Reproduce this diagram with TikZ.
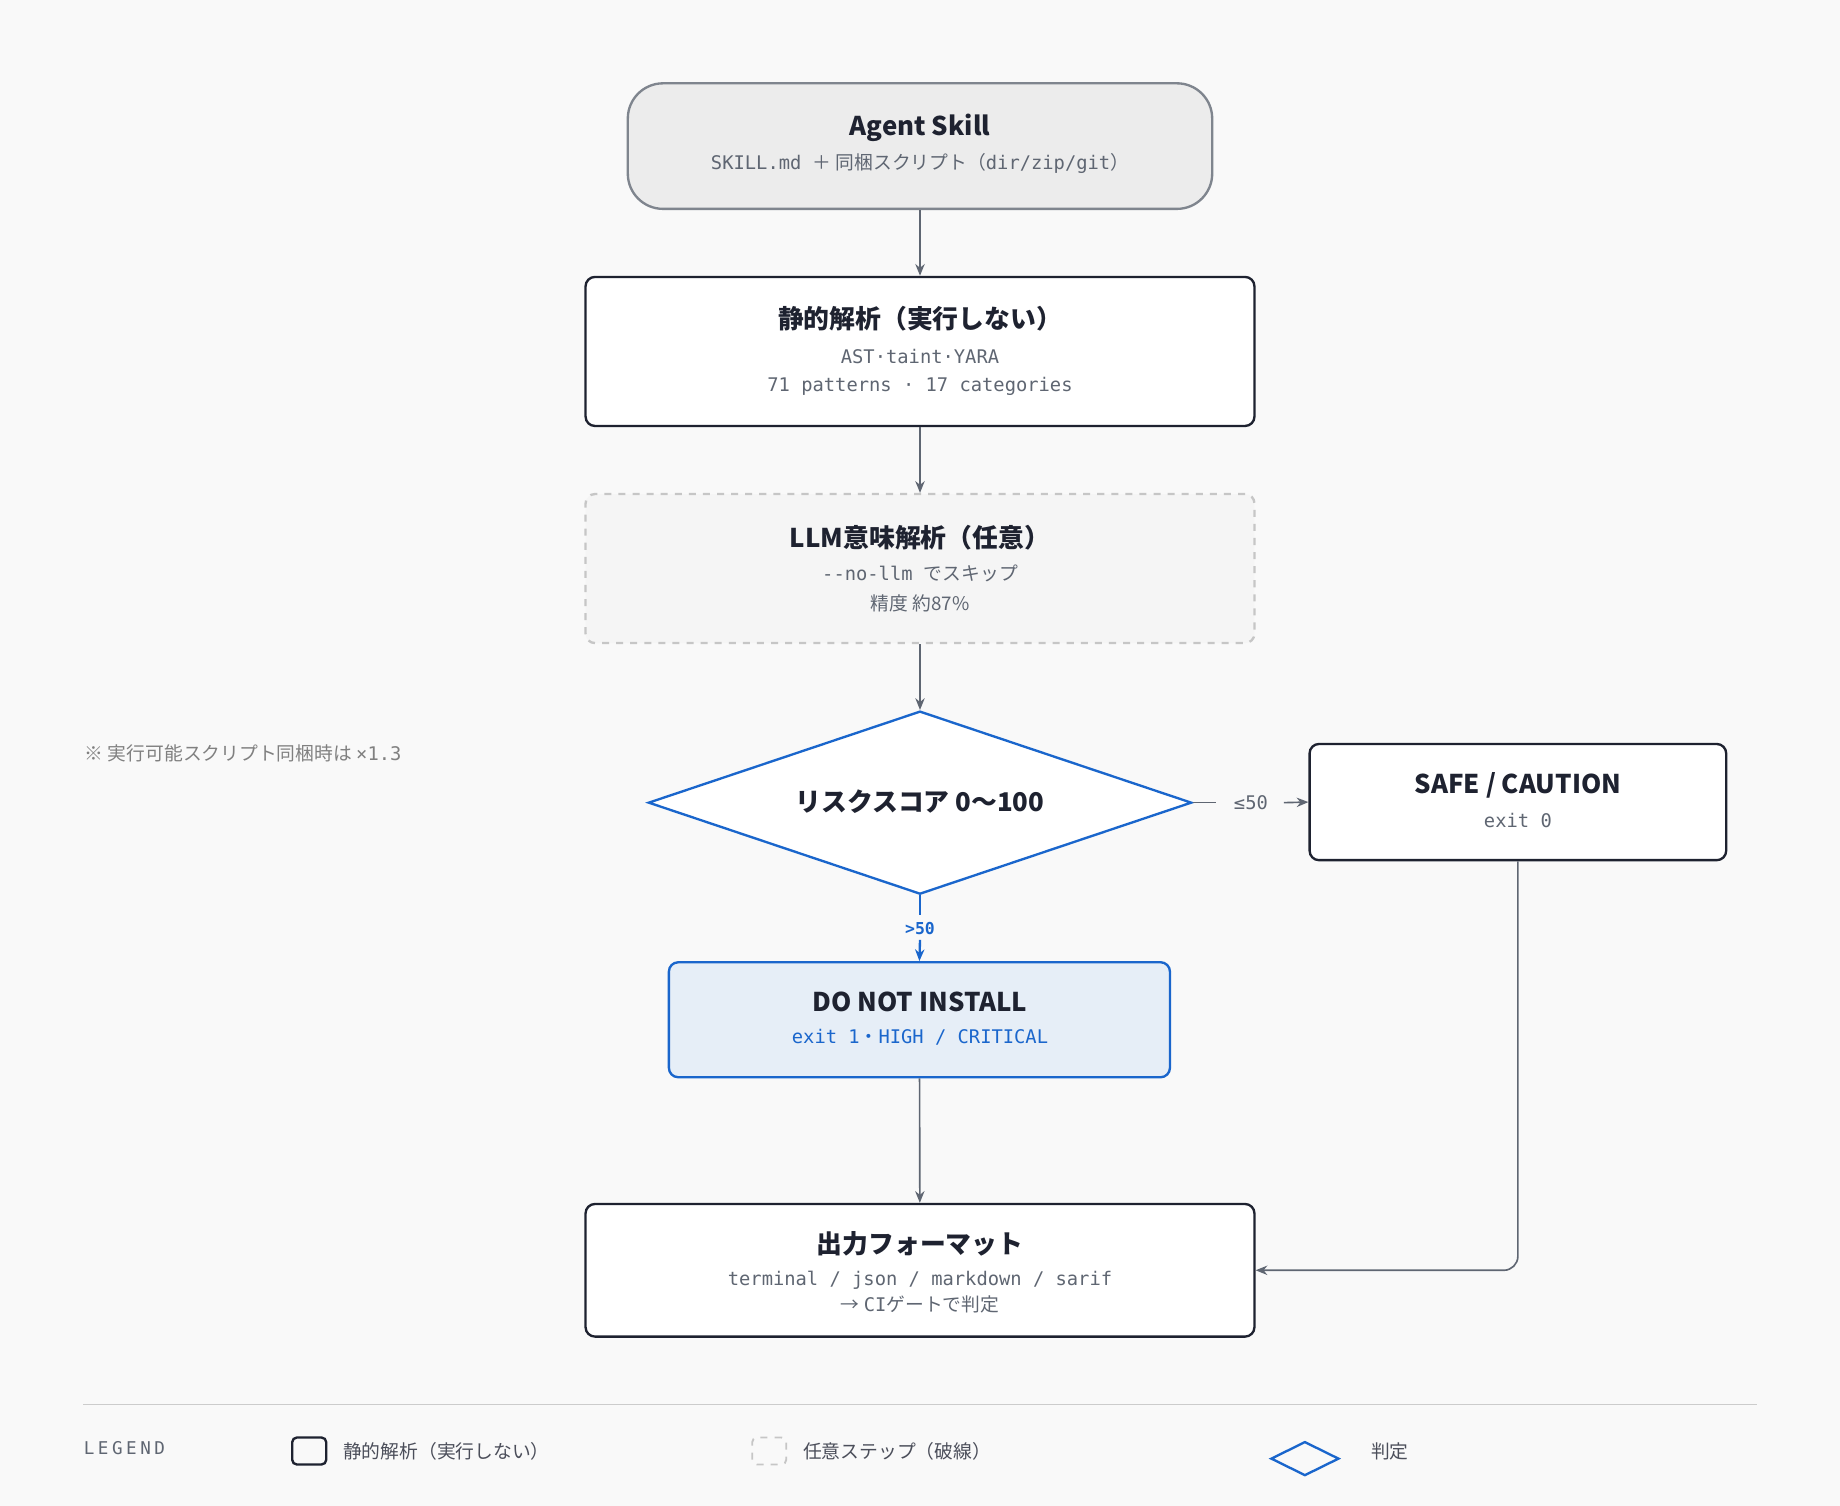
\documentclass[tikz,border=0pt]{standalone}
\usepackage{fontspec}
\setmainfont{Noto Sans CJK JP}
\newfontfamily\mono{DejaVu Sans Mono}
\newfontfamily\monols[LetterSpace=20]{DejaVu Sans Mono}
\usetikzlibrary{shapes.geometric,arrows.meta}
\definecolor{bg}{HTML}{F9F9F9}
\definecolor{ink}{HTML}{1E2230}
\definecolor{sub}{HTML}{5F6672}
\definecolor{blu}{HTML}{1A66CC}
\definecolor{lbl}{HTML}{E6EEF7}
\tikzset{
 every node/.style={inner sep=0pt},
 box/.style={draw=ink,line width=1pt,fill=white,rounded corners=4pt,align=center},
 conn/.style={draw=sub,line width=0.7pt,-{Stealth[length=5pt,width=4pt]}},
 ttl/.style={font=\fontsize{11}{13}\selectfont\bfseries,text=ink},
 sb/.style={font=\fontsize{8}{10}\selectfont,text=sub},
}
\begin{document}
\begin{tikzpicture}[x=0.5pt,y=-0.5pt]
\fill[bg] (0,0) rectangle (1568,1283);
\useasboundingbox (0,0) rectangle (1568,1283);
% nodes
\node[box,draw=sub!80,fill=gray!15,rounded corners=15pt,minimum width=249pt,minimum height=53.5pt] (skill) at (784,124.5) {};
\node[ttl] at (784,109) {Agent Skill};
\node[sb] at (784,139) {\mono SKILL.md \rmfamily ＋ 同梱スクリプト（\mono dir/zip/git\rmfamily）};
\node[box,minimum width=285pt,minimum height=63.5pt] (stat) at (784,299.5) {};
\node[ttl] at (784,272) {静的解析（実行しない）};
\node[sb] at (784,304) {\mono AST·taint·YARA};
\node[sb] at (784,329) {\mono 71 patterns · 17 categories};
\node[box,draw=gray!45,dashed,fill=gray!8,minimum width=285pt,minimum height=63.5pt] (llm) at (784,484.5) {};
\node[ttl] at (784,458) {LLM意味解析（任意）};
\node[sb] at (784,489) {\mono --no-llm \rmfamily でスキップ};
\node[sb] at (784,514) {精度 約87\%};
\node[draw=blu,line width=1pt,fill=white,diamond,aspect=2.97,minimum width=231.5pt,minimum height=78pt] (dia) at (784,684) {};
\node[ttl] at (784,683) {リスクスコア 0〜100};
\node[box,minimum width=177.5pt,minimum height=49.5pt] (safe) at (1293.5,683.5) {};
\node[ttl] at (1293.5,669) {SAFE / CAUTION};
\node[sb] at (1293.5,699) {\mono exit 0};
\node[box,draw=blu,fill=lbl,minimum width=213.5pt,minimum height=49pt] (dni) at (783.5,869) {};
\node[ttl] at (784,854) {DO NOT INSTALL};
\node[sb,text=blu] at (784,884) {\mono exit 1\rmfamily・\mono HIGH / CRITICAL};
\node[box,minimum width=285pt,minimum height=56.5pt] (out) at (784,1082.5) {};
\node[ttl] at (784,1060) {出力フォーマット};
\node[sb] at (784,1091) {\mono terminal / json / markdown / sarif};
\node[sb] at (784,1112) {→ \mono CI\rmfamily ゲートで判定};
\node[sb,anchor=west,text=gray] (note) at (72,642) {※ 実行可能スクリプト同梱時は \mono ×1.3};
% connectors
\draw[conn] (skill) -- (stat);
\draw[conn] (stat) -- (llm);
\draw[conn] (llm) -- (dia);
\node[sb] (le) at (1066,684) {\mono ≤50};
\draw[draw=sub,line width=0.7pt] (dia.east) -- (1036,684);
\draw[conn] (1094,684) -- (safe.west);
\node[sb,text=blu,font=\fontsize{7}{9}\selectfont\bfseries\mono] (gt) at (784,791) {>50};
\draw[blu,line width=1pt] (dia.south) -- (784,780);
\draw[blu,line width=1pt,-{Stealth[length=5pt,width=4pt]}] (784,801) -- (dni.north);
\draw[conn] (dni) -- (out);
\draw[conn,rounded corners=6pt] (safe.south) |- (out.east);
% legend
\draw[gray!40,line width=0.6pt] (71,1197) -- (1497,1197);
\node[sb,anchor=west,font=\fontsize{7.5}{9}\selectfont\monols] (lg) at (71,1234) {LEGEND};
\node[draw=ink,line width=1pt,rounded corners=2pt,minimum width=14.5pt,minimum height=11.5pt] (l1) at (263.5,1236.5) {};
\node[sb,anchor=west,text=ink!80] at (292,1237) {静的解析（実行しない）};
\node[draw=gray!45,dashed,line width=0.8pt,rounded corners=2pt,minimum width=14.5pt,minimum height=11.5pt] (l2) at (655.5,1236.5) {};
\node[sb,anchor=west,text=ink!80] at (684,1237) {任意ステップ（破線）};
\node[draw=blu,line width=1pt,diamond,aspect=2,minimum width=29pt,minimum height=14.5pt] (l3) at (1112,1243) {};
\node[sb,anchor=west,text=ink!80] at (1168,1237) {判定};
\end{tikzpicture}
\end{document}
